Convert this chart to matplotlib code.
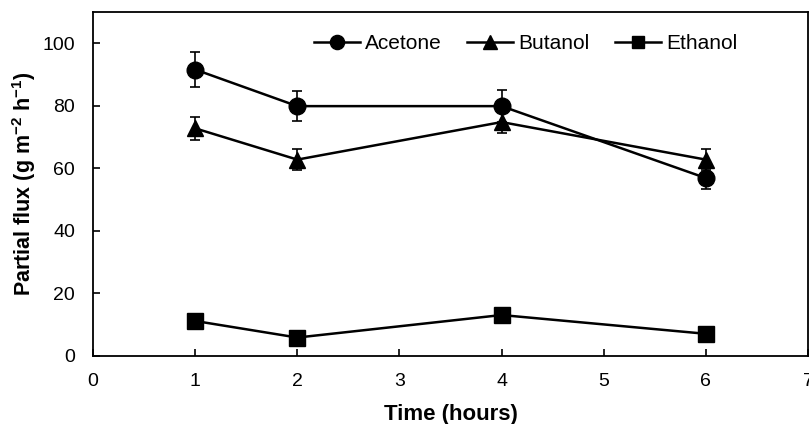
import matplotlib
matplotlib.use("Agg")
import matplotlib.pyplot as plt

plt.rcParams['font.family'] = ['Liberation Sans', 'DejaVu Sans']
plt.rcParams['mathtext.fontset'] = 'custom'
plt.rcParams['mathtext.rm'] = 'Liberation Sans'
plt.rcParams['mathtext.bf'] = 'Liberation Sans:bold'

time_h = [1, 2, 4, 6]
acetone = [91.6, 79.9, 79.9, 56.9]
acetone_err = [5.7, 4.9, 5.0, 3.5]
butanol = [72.8, 62.8, 74.8, 62.8]
butanol_err = [3.7, 3.3, 3.4, 3.3]
ethanol = [11.2, 5.9, 13.1, 7.1]
ethanol_err = [0.8, 0.6, 0.9, 0.6]
series_names = ["Acetone", "Butanol", "Ethanol"]
x_ticks = [0, 1, 2, 3, 4, 5, 6, 7]
y_ticks = [0, 20, 40, 60, 80, 100]

fig = plt.figure(figsize=(8.09, 4.24), dpi=100)
ax = fig.add_axes([93/809, 68/424, 715/809, 344/424])

styles = [("o", 12), ("^", 12), ("s", 11)]
data = [(acetone, acetone_err), (butanol, butanol_err), (ethanol, ethanol_err)]
for (vals, errs), (mk, ms), name in zip(data, styles, series_names):
    ax.errorbar(time_h, vals, yerr=errs, color="black", marker=mk, markersize=ms,
                linewidth=1.8, elinewidth=1.2, capsize=3.9, capthick=1.2,
                label=name, clip_on=False)

ax.set_xlim(0, 7)
ax.set_ylim(0, 110)
ax.set_xticks(x_ticks)
ax.set_yticks(y_ticks)
ax.tick_params(direction="in", length=5, width=1.2, labelsize=14, pad=12)
ax.tick_params(axis="y", pad=13)
for s in ax.spines.values():
    s.set_linewidth(1.3)

ax.set_xlabel("Time (hours)", fontsize=16, fontweight="bold", labelpad=10)
ax.set_ylabel(r"Partial flux (g m$^{\mathbf{-2}}$ h$^{\mathbf{-1}}$)", fontsize=15.5,
              fontweight="bold", labelpad=3)

handles, labels = ax.get_legend_handles_labels()
handles = [h[0] for h in handles]
ax.legend(handles, labels, loc="center", bbox_to_anchor=(0.605, 0.907), ncol=3,
          frameon=False, fontsize=15, handlelength=2.2, handletextpad=0.27,
          columnspacing=1.2, numpoints=1, markerscale=0.85,
          borderaxespad=0, borderpad=0)

fig.savefig("out.png", dpi=100)
